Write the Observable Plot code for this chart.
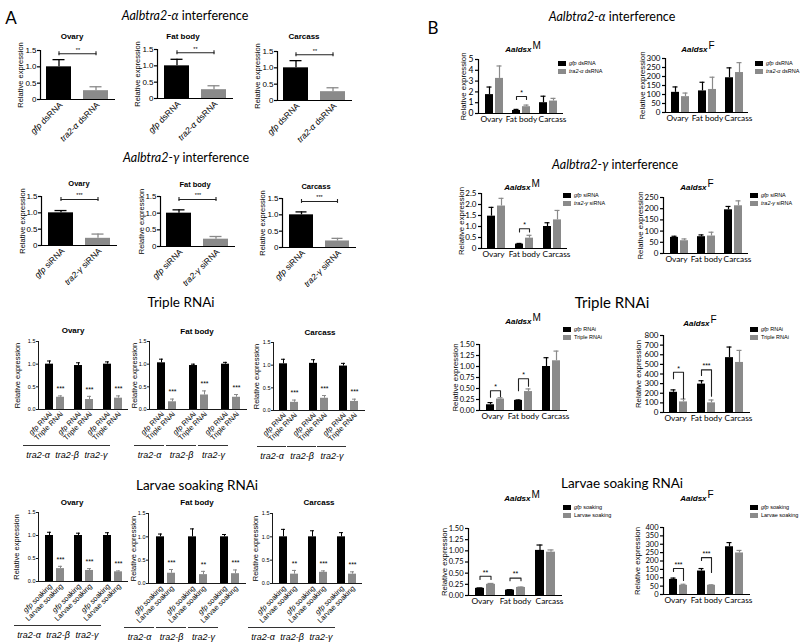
<!DOCTYPE html>
<html><head><meta charset="utf-8">
<script src="https://cdn.jsdelivr.net/npm/d3@7"></script>
<script src="https://cdn.jsdelivr.net/npm/@observablehq/plot@0.6"></script>
<style>
body{margin:0;background:#fff;}
#fig{position:relative;width:800px;height:643px;overflow:hidden;background:#fff;font-family:"Liberation Sans",Arial,sans-serif;color:#000;}
.t{position:absolute;white-space:nowrap;line-height:1;transform:translate(-50%,-50%);}
.lg{position:absolute;font-size:5.5px;line-height:8.5px;white-space:nowrap;font-family:"Liberation Sans",Arial,sans-serif;}
.lg .sw{display:inline-block;width:8px;height:5px;margin-right:3px;vertical-align:middle;}
</style></head><body><div id="fig"></div><script>
// ---------------- data ----------------
const TISSUES = ["Ovary", "Fat body", "Carcass"];
const GENES = ["tra2-α", "tra2-β", "tra2-γ"];

// Panel A, row 1 (per tissue: [gfp, tra2])
const aAlphaTreat = ["gfp dsRNA", "tra2-α dsRNA"];
const aAlphaMean = [[1.0, 0.27], [1.0, 0.27], [1.0, 0.27]];
const aAlphaErr = [[0.22, 0.12], [0.2, 0.12], [0.22, 0.12]];
const aAlphaSig = ["**", "**", "**"];
const aAlphaSigLevel = [1.4, 1.4, 1.4];
// Panel A, row 2
const aGammaTreat = ["gfp siRNA", "tra2-γ siRNA"];
const aGammaMean = [[1.0, 0.22], [1.0, 0.22], [1.0, 0.2]];
const aGammaErr = [[0.07, 0.13], [0.1, 0.08], [0.09, 0.08]];
const aGammaSig = ["***", "***", "***"];
const aGammaSigLevel = [1.41, 1.41, 1.41];
// Panel A, row 3 (per tissue, per gene: [gfp, triple])
const tripleTreat = ["gfp RNAi", "Triple RNAi"];
const tripleMean = [
  [[1.0, 0.27], [0.97, 0.22], [1.0, 0.25]],
  [[1.03, 0.17], [0.97, 0.32], [1.0, 0.27]],
  [[1.03, 0.18], [1.04, 0.27], [0.98, 0.2]]];
const tripleErr = [
  [[0.07, 0.03], [0.06, 0.07], [0.05, 0.05]],
  [[0.08, 0.06], [0.03, 0.09], [0.04, 0.06]],
  [[0.1, 0.05], [0.08, 0.06], [0.06, 0.05]]];
const tripleSig = [["***", "***", "***"], ["***", "***", "***"], ["***", "***", "***"]];
// Panel A, row 4
const soakTreat = ["gfp soaking", "Larvae soaking"];
const soakMean = [
  [[1.0, 0.28], [1.0, 0.24], [1.0, 0.21]],
  [[1.0, 0.22], [1.0, 0.19], [1.0, 0.21]],
  [[1.0, 0.2], [1.0, 0.24], [1.0, 0.2]]];
const soakErr = [
  [[0.07, 0.05], [0.05, 0.04], [0.06, 0.02]],
  [[0.06, 0.08], [0.17, 0.07], [0.05, 0.08]],
  [[0.16, 0.08], [0.13, 0.03], [0.09, 0.05]]];
const soakSig = [["***", "***", "***"], ["***", "**", "***"], ["**", "***", "***"]];
const aTicks = [0, 0.5, 1, 1.5];

// Panel B (per tissue: [control, knockdown])
const bAlphaTreat = ["gfp dsRNA", "tra2-α dsRNA"];
const bAlphaMMean = [[1.75, 3.25], [0.28, 0.63], [1.0, 1.15]];
const bAlphaMErr = [[0.7, 1.15], [0.1, 0.15], [0.6, 0.25]];
const bAlphaMBrackets = [{tissue: "Fat body", top: 1.58, left: 1.3, right: 1.3, sig: "*"}];
const bAlphaMTicks = [0, 1, 2, 3, 4, 5];
const bAlphaFMean = [[112, 88], [120, 128], [193, 222]];
const bAlphaFErr = [[30, 20], [48, 68], [55, 55]];
const bAlphaFTicks = [0, 50, 100, 150, 200, 250, 300];

const bGammaTreat = ["gfp siRNA", "tra2-γ siRNA"];
const bGammaMMean = [[1.47, 1.93], [0.2, 0.47], [1.0, 1.3]];
const bGammaMErr = [[0.4, 0.35], [0.03, 0.13], [0.17, 0.43]];
const bGammaMBrackets = [{tissue: "Fat body", top: 0.9, left: 0.75, right: 0.75, sig: "*"}];
const bGammaMTicks = [0, 0.5, 1, 1.5, 2, 2.5];
const bGammaFMean = [[72, 57], [75, 78], [195, 213]];
const bGammaFErr = [[5, 8], [8, 17], [15, 22]];
const bGammaFTicks = [0, 50, 100, 150, 200, 250];

const bTripleTreat = ["gfp RNAi", "Triple RNAi"];
const bTripleMMean = [[0.13, 0.26], [0.23, 0.43], [1.0, 1.13]];
const bTripleMErr = [[0.05, 0.03], [0.01, 0.06], [0.2, 0.22]];
const bTripleMBrackets = [
  {tissue: "Ovary", top: 0.45, left: 0.3, right: 0.32, sig: "*"},
  {tissue: "Fat body", top: 0.72, left: 0.45, right: 0.55, sig: "*"}];
const bTripleMTicks = [0, 0.25, 0.5, 0.75, 1, 1.25, 1.5];
const bTripleFMean = [[210, 110], [295, 100], [570, 520]];
const bTripleFErr = [[25, 30], [35, 30], [110, 125]];
const bTripleFBrackets = [
  {tissue: "Ovary", top: 418, left: 350, right: 145, sig: "*"},
  {tissue: "Fat body", top: 443, left: 384, right: 170, sig: "***"}];
const bTripleFTicks = [0, 100, 200, 300, 400, 500, 600, 700, 800];

const bSoakTreat = ["gfp soaking", "Larvae soaking"];
const bSoakMMean = [[0.16, 0.25], [0.12, 0.18], [1.01, 0.97]];
const bSoakMErr = [[0.01, 0.02], [0.01, 0.01], [0.12, 0.05]];
const bSoakMBrackets = [
  {tissue: "Ovary", top: 0.43, left: 0.36, right: 0.36, sig: "**"},
  {tissue: "Fat body", top: 0.39, left: 0.33, right: 0.33, sig: "**"}];
const bSoakMTicks = [0, 0.25, 0.5, 0.75, 1, 1.25, 1.5];
const bSoakFMean = [[90, 55], [140, 55], [285, 248]];
const bSoakFErr = [[8, 6], [15, 3], [25, 15]];
const bSoakFBrackets = [
  {tissue: "Ovary", top: 155, left: 137, right: 84, sig: "***"},
  {tissue: "Fat body", top: 220, left: 203, right: 131, sig: "***"}];
const bSoakFTicks = [0, 50, 100, 150, 200, 250, 300, 350, 400];

// ---------------- helpers ----------------
const BLACK = "#000", GRAY = "#8a8a8a";
const SANS = "Liberation Sans, Arial, sans-serif";
const LATO = "Lato, Liberation Sans, sans-serif";
const fig = document.getElementById("fig");
const SVGNS = "http://www.w3.org/2000/svg";

function splitItalic(s) { return s.match(/^(gfp|tra2-[αβγ])(.*)$/); }
function htmlItalic(s) { const m = splitItalic(s); return m ? `<i>${m[1]}</i>${m[2]}` : s; }
function italicize(svg) {
  svg.querySelectorAll("text").forEach(t => {
    if (t.children.length) return;
    const m = splitItalic(t.textContent);
    if (!m) return;
    t.textContent = "";
    const a = document.createElementNS(SVGNS, "tspan");
    a.setAttribute("font-style", "italic"); a.textContent = m[1];
    const b = document.createElementNS(SVGNS, "tspan"); b.textContent = m[2];
    t.append(a, b);
  });
}
function addText(html, x, y, css) {
  const d = document.createElement("div");
  d.className = "t"; d.innerHTML = html;
  d.style.left = x + "px"; d.style.top = y + "px";
  Object.assign(d.style, css || {});
  fig.appendChild(d);
}
function legend(x, y, treats) {
  const d = document.createElement("div");
  d.className = "lg"; d.style.left = x + "px"; d.style.top = (y - 4.25) + "px";
  d.innerHTML = treats.map((t, i) => `<div><span class="sw" style="background:${i ? GRAY : BLACK}"></span>${htmlItalic(t)}</div>`).join("");
  fig.appendChild(d);
}

function subplot(o) {
  const ml = 45, mr = 20, mt = 20, mb = 75;
  const W = ml + (o.x1 - o.x0) + mr, H = mt + (o.yB - o.yT) + mb;
  const dims = {width: W, height: H, marginLeft: ml, marginRight: mr, marginTop: mt, marginBottom: mb};
  const style = {background: "none", overflow: "visible", fontFamily: o.family, fontSize: (o.catFont || 9) + "px", color: "#000"};
  const base = Plot.plot({
    ...dims, style,
    x: {domain: [0, 1], axis: null},
    y: {domain: o.domain},
    marks: [
      Plot.axisY({ticks: o.ticks, tickFormat: o.fmt, tickSize: o.tickSize, tickPadding: o.tickPad, fontSize: o.tickFont, strokeWidth: o.sw, label: null}),
      Plot.ruleX([0], {strokeWidth: o.sw}),
      Plot.ruleY([0], {strokeWidth: o.sw}),
      Plot.text(["Relative expression"], {frameAnchor: "left", textAnchor: "middle", rotate: -90, dx: -o.labelOffset, fontSize: o.labelFont, fontFamily: SANS})
    ]
  });
  const data = Plot.plot({
    ...dims, style,
    x: {domain: o.treats, paddingInner: o.xPad, paddingOuter: o.xOuter, axis: null},
    fx: o.fx,
    y: {domain: o.domain, axis: null},
    color: {domain: ["c", "r"], range: [BLACK, GRAY]},
    marks: o.marks
  });
  italicize(data);
  for (const s of [base, data]) {
    s.style.position = "absolute";
    s.style.left = (o.x0 - ml) + "px";
    s.style.top = (o.yT - mt) + "px";
    fig.appendChild(s);
  }
}

function twoBarMarks(treats, mean, err, sig, level) {
  const rows = treats.map((t, i) => ({t, c: i ? "r" : "c", v: mean[i], e: err[i]}));
  return [
    Plot.barY(rows, {x: "t", y: "v", fill: "c"}),
    Plot.ruleX(rows, {x: "t", y1: "v", y2: d => d.v + d.e, stroke: "c", strokeWidth: 1.3}),
    Plot.tickY(rows, {x: "t", y: d => d.v + d.e, stroke: "c", strokeWidth: 1.3, insetLeft: 6.5, insetRight: 6.5}),
    Plot.line(rows, {x: "t", y: () => level, stroke: "#222", strokeWidth: 1.1}),
    Plot.ruleX(rows, {x: "t", y1: () => level - 0.06, y2: () => level + 0.06, stroke: "#222", strokeWidth: 1.1}),
    Plot.text([sig], {y: () => level, text: d => d, dy: -4, fontSize: 5.5}),
    Plot.text(rows, {x: "t", text: "t", frameAnchor: "bottom", rotate: -45, textAnchor: "end", dx: 4, dy: 6, fontSize: 8.5})
  ];
}

function geneMarks(treats, mean, err, sig, gdx, ldy) {
  const rows = GENES.flatMap((g, gi) => treats.map((t, ti) => ({g, t, c: ti ? "r" : "c", v: mean[gi][ti], e: err[gi][ti], s: ti ? sig[gi] : ""})));
  return [
    Plot.barY(rows, {fx: "g", x: "t", y: "v", fill: "c"}),
    Plot.ruleX(rows, {fx: "g", x: "t", y1: "v", y2: d => d.v + d.e, stroke: "c", strokeWidth: 1}),
    Plot.tickY(rows, {fx: "g", x: "t", y: d => d.v + d.e, stroke: "c", strokeWidth: 1, insetLeft: 2, insetRight: 2}),
    Plot.text(rows.filter(d => d.s), {fx: "g", x: "t", y: d => d.v + d.e, text: "s", dy: -7, fontSize: 7}),
    Plot.text(rows, {fx: "g", x: "t", text: "t", frameAnchor: "bottom", rotate: -45, textAnchor: "end", dx: 3, dy: 5, fontSize: 7.3, fill: "#000"}),
    Plot.ruleY(GENES, {fx: d => d, y: () => 0, dx: gdx, dy: ldy, insetLeft: -5, insetRight: -5, stroke: "#333", strokeWidth: 1}),
    Plot.text(GENES, {fx: d => d, text: d => d, frameAnchor: "bottom", dx: gdx, dy: ldy + 12, fontSize: 9, fontStyle: "italic"})
  ];
}

const TISSUE_DX = [-3, 0, 4];
function groupMarks(treats, mean, err, brackets) {
  const rows = TISSUES.flatMap((tis, i) => treats.map((t, ti) => ({tis, t, c: ti ? "r" : "c", v: mean[i][ti], e: err[i][ti]})));
  const pts = brackets.flatMap(b => [
    {tis: b.tissue, t: treats[0], y: b.left}, {tis: b.tissue, t: treats[0], y: b.top},
    {tis: b.tissue, t: treats[1], y: b.top}, {tis: b.tissue, t: treats[1], y: b.right}]);
  return [
    Plot.barY(rows, {fx: "tis", x: "t", y: "v", fill: "c"}),
    Plot.ruleX(rows, {fx: "tis", x: "t", y1: "v", y2: d => d.v + d.e, stroke: "c", strokeWidth: 1.2}),
    Plot.tickY(rows, {fx: "tis", x: "t", y: d => d.v + d.e, stroke: "c", strokeWidth: 1.2, insetLeft: 1.5, insetRight: 1.5}),
    Plot.line(pts, {fx: "tis", x: "t", y: "y", z: "tis", stroke: "#222", strokeWidth: 1.1}),
    Plot.text(brackets, {fx: "tissue", y: "top", text: "sig", dy: -4, fontSize: 7, fontFamily: SANS}),
    ...TISSUES.map((t, i) => Plot.axisFx({ticks: [t], anchor: "bottom", tickSize: 0, tickPadding: 3, fontSize: 8.3, dx: TISSUE_DX[i], label: null}))
  ];
}

// ---------------- panel A ----------------
const fmtA = d => d === 0 ? "0" : d.toFixed(1);
const fmt1 = d => d.toFixed(1);
const fmt2 = d => d.toFixed(2);
const fmtI = d => String(d);

const aRow12 = {family: SANS, domain: [0, 1.5], ticks: aTicks, fmt: fmtA, tickSize: 3, tickPad: 1, tickFont: 8, sw: 1.2, labelFont: 7.5, xPad: 0.32, xOuter: 0.17};
const r1Frames = [[40, 115, 50, 99, 20], [157, 233, 49, 98, 20], [277, 352, 51, 100, 20]];
r1Frames.forEach(([x0, x1, yT, yB, lo], i) => subplot({...aRow12, x0, x1, yT, yB, labelOffset: lo, treats: aAlphaTreat,
  marks: twoBarMarks(aAlphaTreat, aAlphaMean[i], aAlphaErr[i], aAlphaSig[i], aAlphaSigLevel[i])}));
const r2Frames = [[41, 117, 196, 245, 19], [160, 235, 196, 246, 19], [282, 356, 198, 247, 20]];
r2Frames.forEach(([x0, x1, yT, yB, lo], i) => subplot({...aRow12, x0, x1, yT, yB, labelOffset: lo, treats: aGammaTreat,
  marks: twoBarMarks(aGammaTreat, aGammaMean[i], aGammaErr[i], aGammaSig[i], aGammaSigLevel[i])}));

const aRow34 = {family: SANS, domain: [0, 1.5], ticks: aTicks, fmt: fmt1, tickSize: 2, tickPad: 1, tickFont: 5.5, sw: 0.9, labelFont: 7.5, xPad: 0.3, xOuter: 0,
  fx: {domain: GENES, paddingInner: 0.36, paddingOuter: 0.2, axis: null}};
const r3Frames = [[38, 128, 341, 409, 21], [149, 247, 341, 409, 15], [273, 365, 342, 410, 17]];
r3Frames.forEach(([x0, x1, yT, yB, lo], i) => subplot({...aRow34, x0, x1, yT, yB, labelOffset: lo, treats: tripleTreat,
  marks: geneMarks(tripleTreat, tripleMean[i], tripleErr[i], tripleSig[i], -17, 36)}));
const r4Frames = [[38, 128, 512, 581, 22], [148, 246, 513, 583, 15], [272, 362, 513, 583, 17]];
r4Frames.forEach(([x0, x1, yT, yB, lo], i) => subplot({...aRow34, x0, x1, yT, yB, labelOffset: lo, treats: soakTreat,
  marks: geneMarks(soakTreat, soakMean[i], soakErr[i], soakSig[i], -26, 44)}));

// ---------------- panel B ----------------
const bBase = {family: LATO, tickSize: 3, tickPad: 2, sw: 1.2, labelFont: 7.8, catFont: 8, xPad: 0.2, xOuter: 0,
  fx: {domain: TISSUES, paddingInner: 0.35, paddingOuter: 0.2}};
const bPlots = [
  {x0: 478, x1: 563, yT: 59, yB: 113, lo: 15, domain: [0, 5], ticks: bAlphaMTicks, fmt: fmtI, tf: 8.5, treats: bAlphaTreat, mean: bAlphaMMean, err: bAlphaMErr, br: bAlphaMBrackets},
  {x0: 665, x1: 748, yT: 58, yB: 112, lo: 23, domain: [0, 300], ticks: bAlphaFTicks, fmt: fmtI, tf: 8, treats: bAlphaTreat, mean: bAlphaFMean, err: bAlphaFErr, br: []},
  {x0: 481, x1: 567, yT: 193, yB: 248, lo: 20, domain: [0, 2.5], ticks: bGammaMTicks, fmt: fmtA, tf: 8, treats: bGammaTreat, mean: bGammaMMean, err: bGammaMErr, br: bGammaMBrackets},
  {x0: 663, x1: 748, yT: 197, yB: 253, lo: 23, domain: [0, 250], ticks: bGammaFTicks, fmt: fmtI, tf: 8, treats: bGammaTreat, mean: bGammaFMean, err: bGammaFErr, br: []},
  {x0: 479, x1: 567, yT: 344, yB: 410, lo: 24, domain: [0, 1.5], ticks: bTripleMTicks, fmt: fmt2, tf: 7.5, treats: bTripleTreat, mean: bTripleMMean, err: bTripleMErr, br: bTripleMBrackets},
  {x0: 663, x1: 750, yT: 335, yB: 412, lo: 25, domain: [0, 800], ticks: bTripleFTicks, fmt: fmtI, tf: 8, treats: bTripleTreat, mean: bTripleFMean, err: bTripleFErr, br: bTripleFBrackets},
  {x0: 468, x1: 562, yT: 528, yB: 595, lo: 24, domain: [0, 1.5], ticks: bSoakMTicks, fmt: fmt2, tf: 7.5, treats: bSoakTreat, mean: bSoakMMean, err: bSoakMErr, br: bSoakMBrackets},
  {x0: 663, x1: 750, yT: 527, yB: 594, lo: 26, domain: [0, 400], ticks: bSoakFTicks, fmt: fmtI, tf: 7.5, treats: bSoakTreat, mean: bSoakFMean, err: bSoakFErr, br: bSoakFBrackets}
];
bPlots.forEach(p => subplot({...bBase, x0: p.x0, x1: p.x1, yT: p.yT, yB: p.yB, labelOffset: p.lo, domain: p.domain, ticks: p.ticks, fmt: p.fmt, tickFont: p.tf, treats: p.treats,
  marks: groupMarks(p.treats, p.mean, p.err, p.br)}));

// legends
[[558, 63, bAlphaTreat], [755, 63, bAlphaTreat], [563, 195, bGammaTreat], [750, 195, bGammaTreat],
 [563, 329, bTripleTreat], [750, 329, bTripleTreat], [563, 507, bSoakTreat], [750, 507, bSoakTreat]]
  .forEach(([x, y, t]) => legend(x, y, t));

// ---------------- titles ----------------
const big = {fontFamily: LATO, fontSize: "17px"};
addText("A", 11, 17, big);
addText("B", 433, 27, big);
const sec = {fontFamily: LATO, fontSize: "12.5px"};
addText("<i>Aalbtra2-α</i> interference", 185, 16, sec);
addText("<i>Aalbtra2-γ</i> interference", 186, 158, sec);
addText("Triple RNAi", 181, 303, {fontFamily: LATO, fontSize: "13.5px"});
addText("Larvae soaking RNAi", 197, 486, {fontFamily: LATO, fontSize: "13.5px"});
addText("<i>Aalbtra2-α</i> interference", 612, 17, sec);
addText("<i>Aalbtra2-γ</i> interference", 615, 165, sec);
addText("Triple RNAi", 612, 302, {fontFamily: LATO, fontSize: "15px"});
addText("Larvae soaking RNAi", 622, 484, {fontFamily: LATO, fontSize: "13.5px"});

const sub = {fontFamily: SANS, fontSize: "8px", fontWeight: "bold"};
[[72, 37], [183, 37], [304, 37]].forEach(([x, y], i) => addText(TISSUES[i], x, y, sub));
[[79, 184], [195, 185], [316, 187]].forEach(([x, y], i) => addText(TISSUES[i], x, y, {...sub, fontSize: "7.5px"}));
[[73, 331], [197, 332], [320, 333]].forEach(([x, y], i) => addText(TISSUES[i], x, y, sub));
[[72, 503], [197, 503], [319, 503]].forEach(([x, y], i) => addText(TISSUES[i], x, y, sub));

const dsx = s => `<b><i>Aaldsx</i></b><span style="font-size:10px;position:relative;top:-3px;margin-left:1px">${s}</span>`;
const dsxCss = {fontFamily: SANS, fontSize: "8px"};
[[523, 49, "M"], [698, 49, "F"], [522, 187, "M"], [697, 187, "F"], [523, 321, "M"], [700, 323, "F"], [522, 498, "M"], [697, 498, "F"]]
  .forEach(([x, y, s]) => addText(dsx(s), x, y, dsxCss));
</script></body></html>
